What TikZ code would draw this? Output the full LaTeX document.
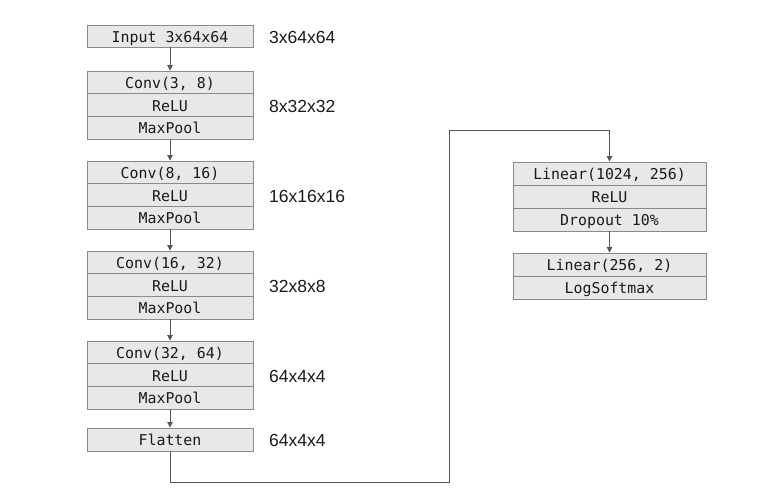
\documentclass[tikz,border=0pt]{standalone}
\usepackage{fontspec}
\setmainfont{Liberation Sans}
\newfontfamily\monof{DejaVu Sans Mono}
\usetikzlibrary{arrows.meta}
\definecolor{boxfill}{HTML}{E8E8E8}
\definecolor{boxline}{HTML}{8A8A8A}
\definecolor{arrcol}{HTML}{555555}
\definecolor{txt}{HTML}{1A1A1A}
\tikzset{
  x=1pt, y=1pt,
  layer/.style={draw=boxline, fill=boxfill, line width=0.9pt, minimum width=166pt, minimum height=22.67pt, inner sep=0pt, text height=12.5pt, text depth=0pt, font=\monof\fontsize{14.9}{15}\selectfont, text=txt},
  rlayer/.style={layer, minimum width=193pt, minimum height=23pt},
  dimlabel/.style={anchor=west, inner sep=0pt, font=\fontsize{17.5}{19}\selectfont, text=txt},
  arr/.style={draw=arrcol, line width=0.9pt, -{Triangle[width=5.5pt,length=5.5pt]}},
}
\begin{document}
\begin{tikzpicture}
\useasboundingbox (0,0) rectangle (778,-489);
% left column
\node[layer, minimum height=22pt] (in) at (170,-36) {Input 3x64x64};
\node[layer] (c1a) at (170,-82.33) {Conv(3, 8)};
\node[layer] (c1b) at (170,-105) {ReLU};
\node[layer] (c1c) at (170,-127.67) {MaxPool};
\node[layer] (c2a) at (170,-172.33) {Conv(8, 16)};
\node[layer] (c2b) at (170,-195) {ReLU};
\node[layer] (c2c) at (170,-217.67) {MaxPool};
\node[layer] (c3a) at (170,-262.33) {Conv(16, 32)};
\node[layer] (c3b) at (170,-285) {ReLU};
\node[layer] (c3c) at (170,-307.67) {MaxPool};
\node[layer] (c4a) at (170,-352.33) {Conv(32, 64)};
\node[layer] (c4b) at (170,-375) {ReLU};
\node[layer] (c4c) at (170,-397.67) {MaxPool};
\node[layer, minimum height=23pt] (fl) at (170,-439.5) {Flatten};
% dimension labels
\node[dimlabel] (d0) at (269,-37) {3x64x64};
\node[dimlabel] (d1) at (269,-106) {8x32x32};
\node[dimlabel] (d2) at (269,-196) {16x16x16};
\node[dimlabel] (d3) at (269,-286) {32x8x8};
\node[dimlabel] (d4) at (269,-376) {64x4x4};
\node[dimlabel] (d5) at (269,-440) {64x4x4};
% right column
\node[rlayer] (l1a) at (609.5,-173.5) {Linear(1024, 256)};
\node[rlayer] (l1b) at (609.5,-196.5) {ReLU};
\node[rlayer] (l1c) at (609.5,-219.5) {Dropout 10\%};
\node[rlayer] (l2a) at (609.5,-264.5) {Linear(256, 2)};
\node[rlayer] (l2b) at (609.5,-287.5) {LogSoftmax};
% arrows
\draw[arr] (in.south) -- (c1a.north);
\draw[arr] (c1c.south) -- (c2a.north);
\draw[arr] (c2c.south) -- (c3a.north);
\draw[arr] (c3c.south) -- (c4a.north);
\draw[arr] (c4c.south) -- (fl.north);
\draw[arr] (l1c.south) -- (l2a.north);
\coordinate (b1) at (449,-482);
\coordinate (b2) at (449,-130);
\draw[arr] (fl.south) |- (b1) -- (b2) -| (l1a.north);
\end{tikzpicture}
\end{document}
